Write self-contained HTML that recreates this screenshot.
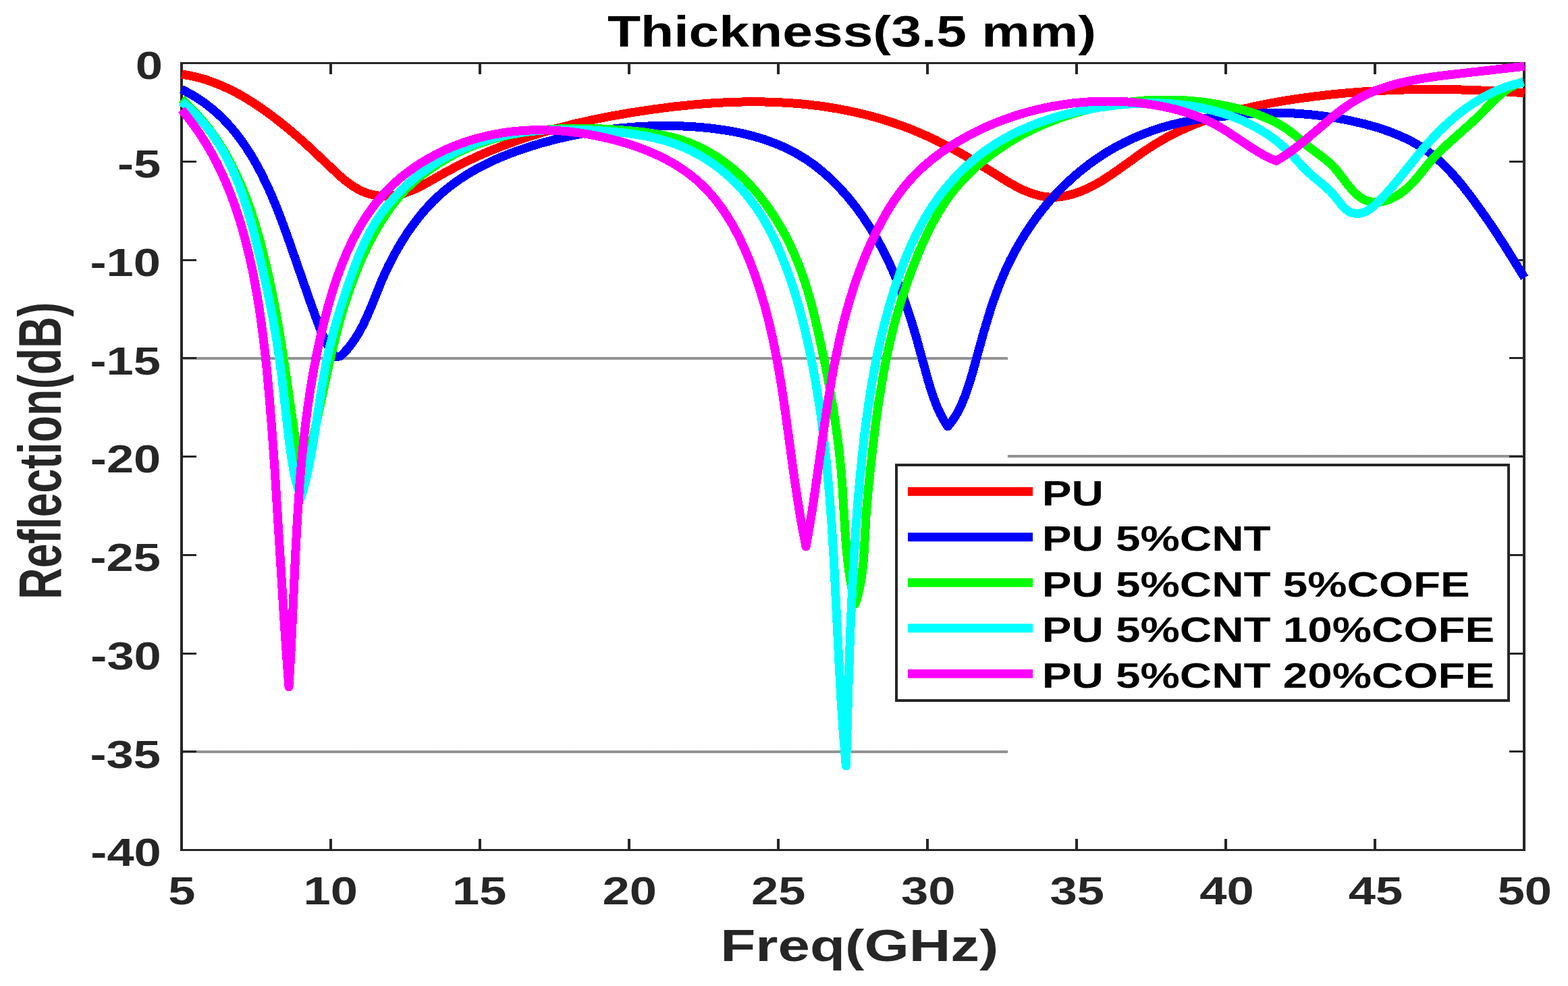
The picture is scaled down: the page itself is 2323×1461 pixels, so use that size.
<!DOCTYPE html>
<html><head><meta charset="utf-8"><title>Thickness(3.5 mm)</title><style>html,body{margin:0;padding:0;background:#fff;overflow:hidden}svg{display:block}</style></head><body>
<svg width="2323" height="1461" viewBox="0 0 2323 1461">
<rect width="2323" height="1461" fill="#fff"/>
<defs><pattern id="chk" width="2" height="2" patternUnits="userSpaceOnUse"><rect width="1" height="1" fill="#262626"/><rect x="1" y="1" width="1" height="1" fill="#262626"/></pattern></defs>
<rect x="271" y="529" width="1222" height="4" fill="url(#chk)" shape-rendering="crispEdges"/>
<rect x="271" y="1112" width="1222" height="4" fill="url(#chk)" shape-rendering="crispEdges"/>
<rect x="1493" y="674" width="763" height="4" fill="url(#chk)" shape-rendering="crispEdges"/>
<g shape-rendering="crispEdges"><rect x="267" y="92" width="4" height="169" fill="#262626"/><rect x="267" y="92" width="4" height="1169" fill="#262626"/><rect x="2256" y="92" width="4" height="1169" fill="#262626"/><rect x="267" y="92" width="1993" height="3" fill="#262626"/><rect x="267" y="1258" width="1993" height="3" fill="#262626"/><rect x="488.0" y="1243" width="4" height="15" fill="#262626"/><rect x="488.0" y="95" width="4" height="15" fill="#262626"/><rect x="709.0" y="1243" width="4" height="15" fill="#262626"/><rect x="709.0" y="95" width="4" height="15" fill="#262626"/><rect x="930.0" y="1243" width="4" height="15" fill="#262626"/><rect x="930.0" y="95" width="4" height="15" fill="#262626"/><rect x="1151.0" y="1243" width="4" height="15" fill="#262626"/><rect x="1151.0" y="95" width="4" height="15" fill="#262626"/><rect x="1372.0" y="1243" width="4" height="15" fill="#262626"/><rect x="1372.0" y="95" width="4" height="15" fill="#262626"/><rect x="1593.0" y="1243" width="4" height="15" fill="#262626"/><rect x="1593.0" y="95" width="4" height="15" fill="#262626"/><rect x="1814.0" y="1243" width="4" height="15" fill="#262626"/><rect x="1814.0" y="95" width="4" height="15" fill="#262626"/><rect x="2035.0" y="1243" width="4" height="15" fill="#262626"/><rect x="2035.0" y="95" width="4" height="15" fill="#262626"/><rect x="271" y="237.8" width="20" height="3" fill="#262626"/><rect x="2236" y="237.8" width="20" height="3" fill="#262626"/><rect x="271" y="383.5" width="20" height="3" fill="#262626"/><rect x="2236" y="383.5" width="20" height="3" fill="#262626"/><rect x="271" y="529.2" width="20" height="3" fill="#262626"/><rect x="2236" y="529.2" width="20" height="3" fill="#262626"/><rect x="271" y="675.0" width="20" height="3" fill="#262626"/><rect x="2236" y="675.0" width="20" height="3" fill="#262626"/><rect x="271" y="820.8" width="20" height="3" fill="#262626"/><rect x="2236" y="820.8" width="20" height="3" fill="#262626"/><rect x="271" y="966.5" width="20" height="3" fill="#262626"/><rect x="2236" y="966.5" width="20" height="3" fill="#262626"/><rect x="271" y="1112.2" width="20" height="3" fill="#262626"/><rect x="2236" y="1112.2" width="20" height="3" fill="#262626"/></g>
<path d="M269.0,110.0 280.9,112.0 292.6,114.6 304.6,118.0 316.4,122.1 328.4,127.0 340.7,132.6 353.2,139.1 365.4,146.1 379.9,155.3 394.8,165.6 410.0,177.0 425.9,189.7 441.0,202.5 456.7,216.6 502.1,259.5 511.1,267.2 519.1,273.3 525.3,277.4 531.3,280.8 537.5,283.8 543.4,286.1 549.5,288.0 556.2,289.4 562.5,290.2 569.4,290.5 579.3,290.1 589.1,288.7 598.7,286.3 608.9,282.7 617.6,278.9 627.4,273.9 659.6,255.6 676.6,246.5 693.3,238.2 710.6,230.2 732.7,220.8 755.5,212.1 779.0,203.9 803.7,196.2 828.6,189.2 854.1,182.8 880.9,176.9 908.3,171.5 938.4,166.4 969.7,161.7 999.6,157.9 1028.2,155.0 1046.2,153.5 1064.3,152.3 1081.9,151.5 1098.9,151.0 1116.0,150.8 1132.5,151.0 1149.0,151.5 1164.9,152.3 1180.8,153.4 1196.7,154.9 1212.0,156.7 1227.3,158.9 1242.5,161.4 1257.1,164.2 1271.7,167.4 1285.7,170.8 1298.6,174.3 1311.6,178.1 1324.4,182.3 1336.7,186.6 1348.9,191.2 1361.0,196.2 1373.0,201.5 1385.4,207.2 1405.6,217.4 1425.7,228.4 1448.6,241.8 1493.3,269.6 1505.9,276.6 1517.4,282.2 1529.1,286.7 1540.0,289.9 1545.3,291.0 1550.6,291.7 1555.9,292.2 1560.8,292.3 1567.7,291.9 1574.5,291.0 1581.8,289.6 1589.0,287.7 1596.6,285.2 1604.0,282.4 1611.6,279.0 1619.6,275.1 1632.1,268.0 1645.9,259.1 1658.7,250.2 1691.1,226.9 1709.1,215.0 1719.4,208.8 1730.3,202.7 1741.4,197.0 1753.1,191.5 1764.5,186.5 1776.5,181.7 1788.7,177.2 1801.4,172.9 1814.8,168.8 1828.3,165.0 1842.4,161.4 1856.6,158.1 1876.8,153.9 1898.6,150.0 1921.9,146.3 1946.8,143.0 1971.2,140.1 1996.1,137.7 2021.0,135.8 2046.4,134.3 2071.8,133.2 2097.2,132.6 2123.1,132.4 2149.1,132.6 2176.1,133.3 2203.1,134.4 2230.6,135.9 2258.6,137.8" fill="none" stroke="#ff0000" stroke-width="13" stroke-linejoin="round" stroke-linecap="butt" shape-rendering="crispEdges"/>
<path d="M269.0,132.4 276.9,136.4 285.0,140.9 292.8,145.7 300.4,150.7 307.6,156.1 315.0,162.0 321.7,167.8 328.5,174.2 335.0,180.9 341.6,188.1 348.0,195.6 354.0,203.4 360.1,211.7 365.9,220.3 371.5,229.1 377.1,238.5 386.2,255.2 394.9,272.9 403.6,292.3 412.4,314.0 419.1,331.6 426.2,351.3 461.2,451.9 471.1,478.9 476.9,493.9 481.6,504.4 486.5,513.8 491.5,521.8 497.0,529.0 505.0,527.5 509.1,523.5 515.2,516.6 520.8,509.5 526.5,501.4 531.7,493.0 538.0,481.3 544.0,468.4 549.8,454.8 564.5,418.2 569.8,406.3 575.1,394.8 581.8,381.7 588.8,368.9 596.1,356.7 603.7,344.8 610.9,334.5 618.5,324.4 626.1,315.1 634.0,306.2 641.9,297.9 650.2,290.0 658.7,282.5 667.6,275.4 679.6,266.6 692.0,258.5 705.3,250.7 719.5,243.3 734.4,236.3 749.7,229.8 766.2,223.6 783.4,217.8 802.2,212.1 822.1,206.8 841.5,202.2 861.5,198.1 881.1,194.7 900.8,191.9 920.6,189.7 940.9,188.0 964.4,186.8 988.4,186.5 1012.6,187.0 1035.4,188.3 1056.5,190.4 1077.0,193.3 1096.8,197.0 1115.2,201.5 1132.3,206.6 1149.0,212.7 1164.4,219.4 1179.2,227.0 1193.1,235.3 1206.5,244.6 1219.7,255.2 1232.6,266.9 1244.6,279.1 1256.4,292.3 1267.8,306.6 1278.6,321.4 1289.2,337.6 1299.2,354.2 1308.6,371.5 1317.4,389.5 1325.0,406.3 1332.1,423.7 1339.1,442.2 1345.8,461.9 1351.5,479.9 1357.2,499.0 1375.1,564.1 1379.2,577.6 1383.2,589.4 1388.0,601.9 1393.0,613.0 1398.3,622.9 1404.0,632.0 1407.9,627.3 1411.6,622.5 1414.9,617.6 1418.2,612.0 1421.5,605.9 1424.4,599.6 1430.2,585.4 1435.2,570.8 1440.3,554.2 1457.2,492.9 1465.7,464.5 1470.5,449.7 1475.3,436.0 1480.5,422.4 1485.6,409.9 1490.8,397.9 1496.4,386.2 1502.4,374.6 1508.4,363.7 1515.1,352.5 1521.8,341.9 1528.8,331.6 1536.1,321.4 1545.8,308.8 1556.1,296.6 1566.9,284.8 1578.1,273.5 1589.4,263.0 1601.1,253.0 1613.3,243.5 1625.9,234.5 1638.8,226.1 1651.7,218.5 1665.0,211.5 1678.7,205.0 1692.6,199.1 1707.2,193.6 1722.1,188.8 1737.1,184.5 1756.1,180.2 1776.1,176.6 1798.7,173.7 1830.0,170.5 1854.0,168.6 1875.5,167.6 1896.4,167.4 1917.4,168.0 1938.8,169.5 1959.6,171.8 1980.3,174.9 2001.0,178.9 2021.7,183.7 2040.7,189.0 2057.9,194.8 2074.2,201.3 2086.0,206.8 2097.4,212.8 2107.9,219.3 2117.7,226.1 2127.0,233.5 2136.2,241.7 2145.8,251.3 2155.3,261.6 2165.7,274.0 2177.2,288.7 2189.7,305.7 2202.7,324.1 2215.3,342.7 2228.3,362.8 2242.4,385.2 2258.6,411.6" fill="none" stroke="#0000ff" stroke-width="13" stroke-linejoin="round" stroke-linecap="butt" shape-rendering="crispEdges"/>
<path d="M269.0,147.0 277.7,155.0 286.3,163.6 294.5,172.5 302.4,181.6 310.1,191.4 317.4,201.4 324.3,211.7 331.1,222.6 337.5,233.8 343.8,245.6 349.7,257.6 355.4,270.2 361.0,283.5 366.2,297.0 371.3,311.2 376.1,325.9 384.7,354.9 392.9,387.0 400.8,421.8 408.1,458.8 413.7,490.3 419.2,524.5 433.9,626.2 438.8,658.8 443.4,686.9 448.0,712.0 454.9,686.1 461.9,657.1 468.7,626.8 486.4,544.3 492.2,519.3 497.7,496.9 504.6,471.3 511.6,447.9 519.0,425.7 526.9,404.7 531.9,392.3 537.3,380.0 542.8,368.3 548.6,356.8 554.5,345.8 560.8,334.9 567.3,324.2 573.7,314.6 579.8,305.9 586.3,297.5 592.7,289.8 599.0,282.8 605.4,276.4 611.9,270.3 619.1,264.2 627.4,257.7 638.3,249.9 649.6,242.4 661.1,235.4 672.5,229.1 684.2,223.3 695.6,218.2 707.2,213.6 719.5,209.4 732.4,205.5 746.0,202.0 759.7,199.0 774.0,196.4 788.8,194.3 803.7,192.6 819.5,191.4 835.4,190.6 854.2,190.2 874.1,190.4 894.6,191.1 916.8,192.4 937.2,194.1 954.5,195.9 970.7,198.3 985.2,201.0 998.0,204.0 1010.0,207.5 1021.2,211.5 1032.2,216.0 1043.2,221.4 1053.9,227.4 1064.7,234.2 1075.2,241.6 1085.2,249.5 1095.3,258.3 1104.9,267.6 1114.2,277.4 1123.0,287.7 1131.7,298.7 1140.0,310.2 1148.2,322.4 1155.8,335.0 1163.0,347.8 1169.9,361.4 1176.2,375.2 1182.1,389.1 1187.6,403.6 1192.8,418.7 1197.6,434.4 1202.7,452.6 1207.6,472.4 1212.6,494.2 1218.7,522.4 1224.4,550.3 1229.3,576.3 1233.6,601.0 1237.4,624.7 1242.4,661.0 1246.0,695.3 1248.1,723.8 1252.3,792.7 1253.8,811.1 1255.4,828.0 1257.7,846.3 1260.4,863.6 1263.5,879.8 1267.0,895.0 1270.6,883.5 1273.5,871.3 1275.9,858.6 1277.8,844.7 1279.0,833.3 1280.0,820.3 1283.1,763.8 1286.0,729.0 1289.9,691.2 1293.9,655.4 1297.6,625.6 1301.4,598.3 1307.8,559.3 1311.2,540.6 1314.9,522.9 1318.7,505.9 1322.8,488.9 1327.2,472.4 1331.9,456.1 1338.0,436.6 1344.4,417.6 1351.2,398.9 1358.6,380.3 1366.7,361.5 1374.7,344.3 1382.4,329.1 1390.0,315.6 1397.3,303.7 1405.0,292.6 1413.2,281.9 1421.9,271.6 1431.5,261.3 1441.6,251.5 1452.5,241.8 1463.7,232.6 1479.4,221.1 1495.6,210.5 1512.8,200.5 1530.5,191.5 1549.1,183.1 1568.2,175.7 1588.0,169.0 1608.3,163.2 1629.3,158.3 1650.5,154.2 1672.0,151.2 1693.5,149.1 1715.1,148.0 1736.2,148.0 1757.2,148.9 1778.2,150.8 1795.0,153.0 1811.2,155.9 1827.2,159.3 1843.1,163.4 1857.8,167.9 1870.8,172.6 1882.6,177.7 1893.7,183.3 1903.5,189.2 1912.5,195.6 1919.3,201.0 1938.4,217.2 1960.5,233.7 1969.6,241.2 1975.0,246.4 1980.4,252.5 1996.6,273.5 2002.5,280.6 2007.9,286.3 2013.3,291.0 2017.2,293.6 2020.8,295.6 2024.6,297.2 2028.1,298.3 2032.3,299.1 2036.5,299.5 2040.9,299.5 2045.3,299.0 2049.7,298.2 2054.6,296.9 2058.9,295.3 2063.6,293.2 2068.3,290.7 2073.2,287.6 2078.0,284.3 2082.5,280.7 2089.0,274.8 2095.6,267.8 2101.7,260.6 2118.3,240.1 2123.8,233.8 2130.4,227.0 2144.8,213.3 2172.5,188.7 2183.7,178.5 2192.3,170.1 2209.5,152.5 2217.0,145.3 2227.2,136.7 2232.0,133.2 2237.0,129.9 2241.8,127.2 2246.8,124.8 2252.0,122.7 2257.0,121.0" fill="none" stroke="#00ff00" stroke-width="13" stroke-linejoin="round" stroke-linecap="butt" shape-rendering="crispEdges"/>
<path d="M269.0,150.5 277.3,157.6 285.2,164.9 292.7,172.5 300.1,180.7 307.1,189.2 314.0,198.3 320.4,207.6 326.5,217.3 332.4,227.5 338.0,238.0 343.4,249.1 348.6,260.9 353.5,272.9 358.2,285.6 362.7,298.9 367.3,313.3 371.6,328.3 376.1,344.8 385.7,384.1 395.8,429.6 404.1,471.1 410.1,506.0 415.0,539.6 418.9,570.9 427.6,647.1 430.2,667.4 432.4,682.1 435.1,697.8 438.2,711.8 441.8,724.7 446.0,737.0 449.8,723.6 453.5,709.2 456.9,694.2 460.2,677.6 465.7,646.0 474.7,586.6 478.6,562.9 483.0,538.8 487.7,516.9 494.8,488.9 503.4,459.3 513.9,426.9 525.4,394.6 530.3,381.9 535.1,370.3 540.1,359.4 545.0,349.5 549.9,340.2 555.2,331.2 560.5,322.8 566.5,314.2 572.8,305.9 579.8,297.5 586.8,289.7 594.4,281.8 602.4,274.2 610.6,267.0 619.2,260.0 628.4,253.1 640.3,244.8 652.7,237.2 665.4,230.1 678.9,223.4 692.2,217.6 705.7,212.4 719.4,207.8 733.7,203.8 748.2,200.4 762.9,197.7 778.6,195.4 794.5,193.8 810.9,192.6 828.5,192.0 846.5,192.0 865.2,192.5 885.9,193.5 907.0,195.1 925.1,196.9 941.5,199.1 956.8,201.7 971.4,204.8 985.3,208.5 998.0,212.6 1010.5,217.3 1022.7,222.8 1034.7,229.0 1046.3,236.0 1057.5,243.5 1068.7,252.0 1079.5,261.1 1089.7,270.8 1099.8,281.4 1108.8,292.2 1117.8,304.1 1126.2,316.6 1134.2,329.8 1142.1,344.4 1149.5,359.7 1156.6,375.8 1163.7,393.5 1170.5,412.4 1176.9,431.9 1183.1,452.5 1188.8,473.8 1194.3,496.6 1199.6,520.5 1204.6,545.5 1208.4,566.6 1212.0,588.3 1215.4,610.5 1218.5,633.2 1224.0,680.8 1228.7,731.6 1232.0,775.5 1235.1,824.9 1243.0,982.5 1246.0,1037.5 1249.5,1088.8 1253.4,1135.0 1257.3,1004.5 1260.3,921.6 1264.0,845.7 1268.3,776.9 1271.0,742.0 1274.0,708.1 1277.1,676.2 1280.4,646.3 1283.9,619.0 1287.6,592.8 1291.6,568.1 1295.9,544.0 1300.9,519.5 1306.2,495.6 1312.1,472.4 1318.3,450.3 1325.0,428.3 1332.3,407.0 1339.6,387.3 1347.3,368.8 1355.0,352.0 1363.1,336.0 1371.4,321.2 1380.4,306.8 1389.7,293.3 1399.5,280.6 1409.9,268.4 1420.8,256.8 1428.0,249.8 1435.4,243.0 1442.9,236.5 1450.3,230.5 1458.3,224.5 1466.0,219.0 1473.9,213.8 1482.3,208.6 1490.9,203.7 1499.7,199.0 1508.6,194.6 1518.1,190.3 1537.4,182.4 1557.7,175.4 1568.8,172.1 1580.4,169.0 1603.9,163.6 1628.6,159.1 1654.0,155.7 1678.0,153.6 1701.0,152.8 1712.5,152.8 1723.5,153.1 1734.4,153.7 1745.4,154.6 1762.3,156.7 1779.1,159.6 1795.2,163.3 1811.1,167.7 1826.3,172.9 1841.1,178.9 1855.0,185.6 1868.0,192.8 1877.7,199.0 1887.1,205.6 1896.1,212.7 1904.3,220.0 1913.0,228.5 1930.2,247.2 1937.9,255.0 1945.3,261.6 1962.4,275.6 1970.1,282.8 1976.1,289.3 1988.0,304.2 1991.1,307.6 1993.9,310.2 1998.5,313.4 2001.0,314.6 2003.5,315.5 2008.8,316.4 2011.6,316.5 2014.8,316.1 2017.9,315.4 2021.5,314.2 2024.6,312.8 2028.0,310.9 2034.9,305.7 2043.1,298.1 2054.0,286.5 2065.2,273.6 2075.8,260.8 2103.2,226.7 2111.7,216.6 2119.5,207.8 2129.5,197.3 2139.5,187.4 2149.6,178.3 2160.0,169.5 2171.7,160.6 2183.8,152.4 2195.8,145.1 2208.2,138.5 2220.5,132.9 2232.5,128.3 2244.9,124.6 2257.0,121.8" fill="none" stroke="#00ffff" stroke-width="13" stroke-linejoin="round" stroke-linecap="butt" shape-rendering="crispEdges"/>
<path d="M269.0,162.5 279.0,174.8 288.5,187.4 297.3,200.3 305.9,213.8 313.9,227.6 321.6,242.1 328.9,257.3 335.7,272.6 342.2,288.7 348.3,305.4 353.9,322.4 359.3,340.4 364.4,359.2 369.3,379.0 373.8,399.5 378.0,421.0 384.3,458.1 389.8,498.3 394.8,542.3 399.4,592.9 403.2,641.5 407.0,694.9 420.9,918.6 424.5,971.0 428.0,1018.0 431.7,953.0 437.6,823.6 440.5,768.7 444.4,711.4 446.6,685.1 449.0,660.3 452.3,631.0 455.9,603.3 459.9,576.6 464.3,550.4 469.2,524.8 474.6,499.7 480.5,475.2 486.6,452.1 493.0,430.3 499.8,409.6 506.9,390.8 514.4,372.8 522.5,355.7 530.9,339.9 539.7,325.2 549.4,311.0 559.2,298.1 569.8,285.9 580.8,274.6 592.6,264.0 605.6,253.8 619.2,244.3 633.5,235.6 648.7,227.4 660.1,221.9 672.2,216.7 684.0,212.2 696.4,208.0 708.9,204.4 721.4,201.3 734.1,198.7 746.8,196.5 760.1,194.8 773.4,193.6 786.8,192.9 800.2,192.7 813.6,193.0 827.5,193.7 841.5,194.9 855.9,196.6 870.9,198.9 885.8,201.7 901.1,205.1 915.9,208.9 930.1,213.0 943.6,217.5 956.4,222.3 968.9,227.6 980.7,233.1 991.7,238.9 1002.4,245.1 1012.7,251.9 1022.3,258.8 1031.4,266.2 1039.8,273.8 1048.1,282.1 1054.6,289.5 1060.9,297.1 1067.2,305.4 1073.2,313.9 1079.1,323.2 1084.8,332.6 1090.4,342.8 1095.7,353.1 1100.9,364.1 1106.1,375.7 1111.1,387.8 1116.0,400.6 1120.6,413.4 1125.0,426.7 1133.2,454.1 1139.0,476.4 1144.5,500.2 1149.6,525.2 1154.5,552.2 1158.5,576.9 1162.6,604.1 1175.6,699.6 1181.1,737.2 1187.4,775.7 1194.0,810.0 1199.6,778.6 1205.2,743.5 1220.9,633.4 1226.2,597.7 1231.0,568.1 1235.9,541.1 1243.3,505.0 1247.3,488.0 1251.4,471.6 1255.7,455.8 1260.3,440.0 1265.1,424.8 1270.1,410.2 1276.3,393.4 1282.8,377.1 1289.9,361.0 1297.2,345.5 1304.5,331.1 1312.2,317.3 1320.0,304.3 1327.9,292.6 1335.6,282.0 1343.7,271.9 1352.0,262.7 1360.7,253.8 1370.1,245.1 1380.3,236.5 1391.3,228.1 1402.7,220.2 1416.1,211.6 1430.3,203.4 1444.8,195.7 1459.7,188.6 1474.8,182.1 1490.7,176.0 1506.4,170.7 1522.8,165.9 1538.8,161.8 1555.6,158.2 1572.4,155.3 1589.4,152.9 1606.4,151.3 1623.4,150.3 1640.5,150.0 1657.0,150.3 1672.5,151.1 1688.0,152.5 1703.3,154.5 1718.0,156.9 1732.1,159.9 1745.6,163.2 1758.9,167.2 1771.5,171.6 1780.7,175.2 1789.3,179.0 1797.8,183.2 1805.7,187.4 1820.7,196.5 1850.9,216.8 1863.6,224.9 1871.0,229.1 1877.6,232.6 1884.3,235.7 1890.7,238.3 1897.9,234.1 1905.4,229.2 1913.1,223.8 1921.5,217.5 1936.3,205.5 1973.6,173.7 1984.6,164.9 1994.6,157.6 2005.7,150.2 2016.8,143.9 2028.2,138.3 2040.5,133.2 2055.4,128.1 2071.6,123.5 2089.2,119.6 2109.1,116.0 2126.7,113.4 2147.3,110.8 2258.6,98.2" fill="none" stroke="#ff00ff" stroke-width="13" stroke-linejoin="round" stroke-linecap="butt" shape-rendering="crispEdges"/>
<g font-family="Liberation Sans, Arial, Helvetica, sans-serif" font-weight="bold"><text transform="translate(899.95,68.90) scale(1.2580,1)" font-size="63.95" fill="#000">Thickness(3.5 mm)</text><text transform="translate(1067.19,1423.60) scale(1.2620,1)" font-size="67.59" fill="#262626">Freq(GHz)</text><text transform="translate(90.3,888.01) rotate(-90) scale(0.9999,1.3852)" font-size="64.43" fill="#262626">Reflection(dB)</text><text transform="translate(200.64,117.30) scale(1.2600,1)" font-size="57.40" fill="#262626">0</text><text transform="translate(173.91,263.05) scale(1.2600,1)" font-size="57.40" fill="#262626">-5</text><text transform="translate(133.54,408.80) scale(1.2600,1)" font-size="57.40" fill="#262626">-10</text><text transform="translate(133.38,554.55) scale(1.2600,1)" font-size="57.40" fill="#262626">-15</text><text transform="translate(133.84,700.30) scale(1.2600,1)" font-size="57.40" fill="#262626">-20</text><text transform="translate(133.38,846.05) scale(1.2600,1)" font-size="57.40" fill="#262626">-25</text><text transform="translate(134.34,991.80) scale(1.2600,1)" font-size="57.40" fill="#262626">-30</text><text transform="translate(133.38,1137.55) scale(1.2600,1)" font-size="57.40" fill="#262626">-35</text><text transform="translate(134.34,1283.30) scale(1.2600,1)" font-size="57.40" fill="#262626">-40</text><text transform="translate(249.28,1340.40) scale(1.2600,1)" font-size="57.40" fill="#262626">5</text><text transform="translate(449.48,1340.40) scale(1.2600,1)" font-size="57.40" fill="#262626">10</text><text transform="translate(670.01,1340.40) scale(1.2600,1)" font-size="57.40" fill="#262626">15</text><text transform="translate(892.51,1340.40) scale(1.2600,1)" font-size="57.40" fill="#262626">20</text><text transform="translate(1113.03,1340.40) scale(1.2600,1)" font-size="57.40" fill="#262626">25</text><text transform="translate(1334.93,1340.40) scale(1.2600,1)" font-size="57.40" fill="#262626">30</text><text transform="translate(1555.45,1340.40) scale(1.2600,1)" font-size="57.40" fill="#262626">35</text><text transform="translate(1777.21,1340.40) scale(1.2600,1)" font-size="57.40" fill="#262626">40</text><text transform="translate(1997.74,1340.40) scale(1.2600,1)" font-size="57.40" fill="#262626">45</text><text transform="translate(2218.65,1340.40) scale(1.2600,1)" font-size="57.40" fill="#262626">50</text></g>
<rect x="1328" y="689" width="906.7" height="348.7" fill="#fff"/><g shape-rendering="crispEdges"><rect x="1326" y="687" width="4" height="353" fill="#262626"/><rect x="2233" y="687" width="4" height="353" fill="#262626"/><rect x="1326" y="687" width="911" height="3.5" fill="#262626"/><rect x="1326" y="1036" width="911" height="3.5" fill="#262626"/></g><rect x="1345" y="721.8" width="185" height="13" fill="#ff0000"/><rect x="1345" y="789.3" width="185" height="13" fill="#0000ff"/><rect x="1345" y="856.8" width="185" height="13" fill="#00ff00"/><rect x="1345" y="924.3" width="185" height="13" fill="#00ffff"/><rect x="1345" y="991.8" width="185" height="13" fill="#ff00ff"/><g font-family="Liberation Sans, Arial, Helvetica, sans-serif" font-weight="bold"><text transform="translate(1543.81,748.90) scale(1.2540,1)" font-size="52.30" fill="#000">PU</text><text transform="translate(1543.81,816.40) scale(1.2540,1)" font-size="52.30" fill="#000">PU 5%CNT</text><text transform="translate(1543.81,883.90) scale(1.2540,1)" font-size="52.30" fill="#000">PU 5%CNT 5%COFE</text><text transform="translate(1543.81,951.40) scale(1.2540,1)" font-size="52.30" fill="#000">PU 5%CNT 10%COFE</text><text transform="translate(1543.81,1018.90) scale(1.2540,1)" font-size="52.30" fill="#000">PU 5%CNT 20%COFE</text></g>
</svg>
</body></html>
